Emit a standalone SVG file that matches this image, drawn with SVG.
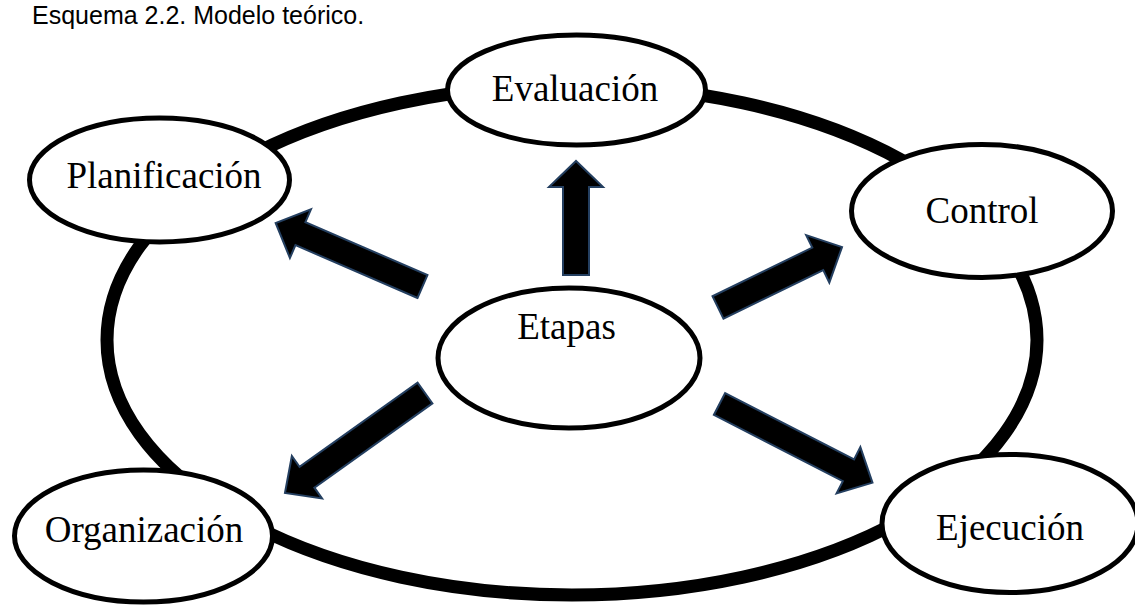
<svg xmlns="http://www.w3.org/2000/svg" width="1135" height="605" viewBox="0 0 1135 605">
<style>
.node{fill:#fff;stroke:#000;stroke-width:5}
.lbl{font-family:"Liberation Serif","Times New Roman",serif;font-size:37px;fill:#000;text-anchor:middle}
.arrow{fill:#000;stroke:#243f60;stroke-width:2;stroke-linejoin:miter}
.title{font-family:"Liberation Sans",Arial,sans-serif;font-size:25px;fill:#000}
</style>
<rect width="1135" height="605" fill="#fff"/>
<text class="title" x="32" y="24">Esquema 2.2. Modelo teórico.</text>
<g id="ring">
<ellipse cx="572" cy="340" rx="465" ry="255" fill="none" stroke="#000" stroke-width="13"/>
</g>
<g id="evaluacion">
<ellipse class="node" cx="576.5" cy="90" rx="129" ry="55"/>
<text class="lbl" x="575" y="101">Evaluación</text>
</g>
<g id="planificacion">
<ellipse class="node" cx="159.5" cy="180" rx="130" ry="62"/>
<text class="lbl" x="164" y="188">Planificación</text>
</g>
<g id="control">
<ellipse class="node" cx="982" cy="211" rx="130.5" ry="66.5"/>
<text class="lbl" x="982" y="223">Control</text>
</g>
<g id="organizacion">
<ellipse class="node" cx="143.5" cy="536" rx="129" ry="66"/>
<text class="lbl" x="144" y="542">Organización</text>
</g>
<g id="ejecucion">
<ellipse class="node" cx="1010" cy="523.5" rx="128" ry="69"/>
<text class="lbl" x="1010" y="540">Ejecución</text>
</g>
<g id="etapas">
<ellipse class="node" cx="569" cy="358" rx="131" ry="70"/>
<text class="lbl" x="566.5" y="339">Etapas</text>
</g>
<g id="connectors">
<polygon class="arrow" transform="translate(576,275) rotate(-90)" points="0,-13 88,-13 88,-27 114,0 88,27 88,13 0,13"/>
<polygon class="arrow" transform="translate(422.5,286.5) rotate(203.4)" points="0,-12.5 133,-12.5 133,-26.5 160,0 133,26.5 133,12.5 0,12.5"/>
<polygon class="arrow" transform="translate(718,307.5) rotate(-26)" points="0,-12.5 111,-12.5 111,-26.4 138,0 111,26.4 111,12.5 0,12.5"/>
<polygon class="arrow" transform="translate(425,393) rotate(144.5)" points="0,-12.8 145,-12.8 145,-26 172,0 145,26 145,12.8 0,12.8"/>
<polygon class="arrow" transform="translate(719.5,404) rotate(27.2)" points="0,-12.3 145,-12.3 145,-26 172,0 145,26 145,12.3 0,12.3"/>
</g>
</svg>
